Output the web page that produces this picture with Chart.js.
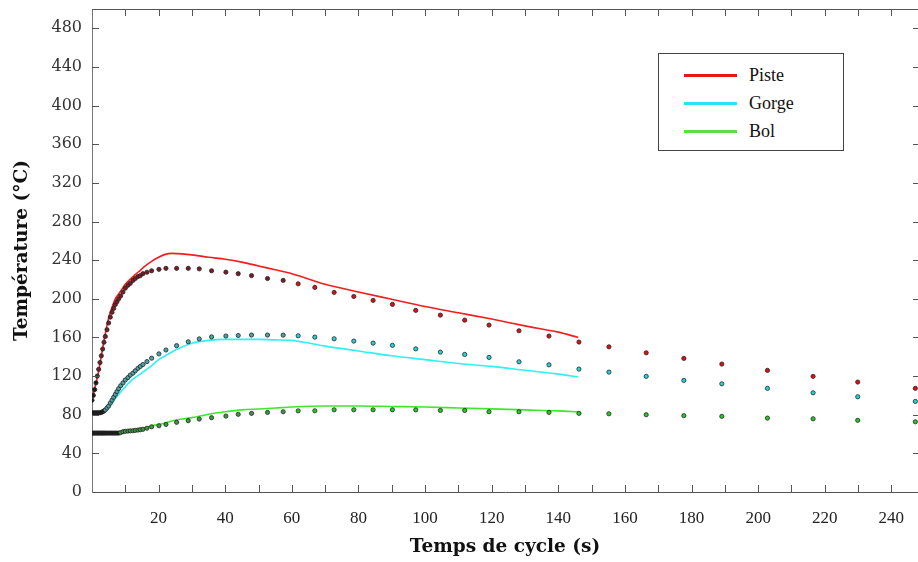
<!DOCTYPE html>
<html>
<head>
<meta charset="utf-8">
<script src="https://cdn.jsdelivr.net/npm/chart.js@4.4.1/dist/chart.umd.min.js"></script>
<style>
body { margin: 0; background: #fff; }
#wrap { position: relative; width: 918px; height: 562px; }
#legend { position: absolute; left: 658px; top: 53px; width: 186px; height: 98px; box-sizing: border-box;
  border: 1px solid #444; background: #fff; font-family: "Liberation Serif", serif; font-size: 18px; color: #111; }
.sw { position: absolute; left: 25px; width: 53px; height: 3px; }
.lb { position: absolute; left: 90px; line-height: 20px; }
</style>
</head>
<body>
<div id="wrap">
  <canvas id="chart" width="918" height="562"></canvas>
  <div id="legend">
    <div class="sw" style="top:20px;background:#ee1414"></div><div class="lb" style="top:11px">Piste</div>
    <div class="sw" style="top:48px;background:#26e6f2"></div><div class="lb" style="top:39px">Gorge</div>
    <div class="sw" style="top:76px;background:#58e23c"></div><div class="lb" style="top:67px">Bol</div>
  </div>
</div>
<script>
// simulation (lines)
const simTime  = [0,1,2,3,4,5,6,7,8,9,10,12,14,16,18,20,22,24,27,30,35,40,45,50,55,60,70,80,90,100,110,120,130,140,146]
const simPiste = [95,110,125,145,164,180,191,200,205,210,215,222,228,234,239,243,246,247,246.5,245.5,243,241,238,234,230,226,215,207,199.5,192,185.5,179,172,165.5,160]
const simGorge = [82,82,82,83,85,88,92,97,101,105,109,116,121,126,131,137,141,145,150,154,157,158,158,158,157.5,157,151,146,141,137,133,130,126,122,119]
const simBol   = [61,61,61,61,61,61,61,61,61,61.5,62,63,64.5,66.5,68.5,70,71.5,73.5,75.5,77,80.5,83,85,86,87,88,89,89,88.5,88,87,86,85,84,83]

// measurements (points)
const measTime  = [0,0.4,0.8,1.2,1.6,2,2.4,2.8,3.2,3.6,4,4.5,5,5.5,6,6.5,7,7.5,8,8.6,9.3,10,10.8,11.5,12.3,13,13.8,14.5,15.3,16.5,17.9,20.1,22.2,25.4,28.9,32.2,35.9,40.2,43.9,47.9,52.7,57.4,61.9,66.9,72.7,78.6,84.4,90.2,97.2,104.6,111.9,119.2,128.2,137.2,146.2,155.2,166.4,177.7,189.1,202.8,216.5,229.9,247.2]
const measPiste = [95,100,106,113,120,127,134,141,148,155,161,168,175,181,186,190,194,197,200,203,207,211,214,216,219,221,223,224,226,227.5,229,230.5,231.5,231.5,231.5,231,229,227.6,226,224,221,219,215.5,211.8,206.6,202.4,198.3,194.2,188,183.1,177.9,172.8,166.9,161.4,155.2,150.3,144.1,138.3,132.4,125.9,119.7,113.8,107.3]
const measGorge = [82,82,82,82,82,82,82,82.5,83,84,85,87,89,92,95,98,101,104,107,110,113,116,118.5,121,123,125.5,128,130,132,135,138.5,143,147,151.5,155.5,158.5,160.5,161.5,162,162.5,162.5,162.4,161.7,160.3,158.6,156.2,154.1,151.8,148.2,144.8,142.4,139.3,134.8,131.7,127.2,124.1,119.7,115.5,112,107.3,102.7,98.6,93.8]
const measBol   = [61,61,61,61,61,61,61,61,61,61,61,61,61,61,61,61,61,61,61,61.5,62.4,62.8,63.1,63.3,63.4,63.8,64.1,64.5,64.9,66,67.5,68.6,70,72.1,73.8,75.5,76.9,78.6,80.4,81.4,82.4,83.1,84,84.1,85.1,85.1,85.1,85.1,85,84.4,84.4,83.1,83.1,82.4,81.4,81,80,79,78.3,76.5,75.8,74.2,72.7]

const timeTicks = [0,10,20,30,40,50,60,70,80,90,100,110,120,130,140,150,160,170,180,190,200,210,220,230,240]

const pairs = (xs, ys) => xs.map((x, i) => ({ x: x, y: ys[i] }))

// colour of a measured dot depends on the part of the record
function dotColor(black, dark, bright) {
    return (ctx) => {
        const t = ctx.raw ? ctx.raw.x : 0
        if (t < black) return '#1a1a1a'
        if (t < 60) return dark
        return bright
    }
}

const innerTicks = {
    id: 'innerTicks',
    afterDraw(chart) {
        const { ctx, chartArea: a, scales: { x, y } } = chart
        ctx.save()
        ctx.strokeStyle = '#555'
        ctx.lineWidth = 1
        ctx.beginPath()
        ctx.moveTo(a.left, a.top + 0.5)
        ctx.lineTo(a.right, a.top + 0.5)
        timeTicks.forEach(v => {
            if (v === 0) return
            const px = Math.round(x.getPixelForValue(v)) + 0.5
            ctx.moveTo(px, a.bottom); ctx.lineTo(px, a.bottom - 7)
            ctx.moveTo(px, a.top); ctx.lineTo(px, a.top + 7)
        })
        y.ticks.forEach(t => {
            if (t.value === 0 || t.value === 500) return
            const py = Math.round(y.getPixelForValue(t.value)) + 0.5
            ctx.moveTo(a.left, py); ctx.lineTo(a.left + 7, py)
            ctx.moveTo(a.right, py); ctx.lineTo(a.right - 5, py)
        })
        ctx.stroke()
        ctx.restore()
    }
}

const lineDs = (data, color) => ({
    type: 'line', data: data, borderColor: color, borderWidth: 1.6,
    pointRadius: 0, fill: false, cubicInterpolationMode: 'monotone', order: 2
})
const dotDs = (data, black, dark, bright) => ({
    type: 'scatter', data: data, showLine: false, pointRadius: 2.1, pointBorderWidth: 0.8,
    pointBorderColor: '#222', pointBackgroundColor: dotColor(black, dark, bright), order: 1
})

new Chart(document.getElementById('chart'), {
    type: 'scatter',
    data: {
        datasets: [
            lineDs(pairs(simTime, simPiste), '#f21d1d'),
            lineDs(pairs(simTime, simGorge), '#2ef0f5'),
            lineDs(pairs(simTime, simBol), '#3de82a'),
            dotDs(pairs(measTime, measPiste), 1.5, '#7a1c26', '#e01010'),
            dotDs(pairs(measTime, measGorge), 4, '#4aa3a6', '#22d4dc'),
            dotDs(pairs(measTime, measBol), 8.5, '#3f973f', '#1fcc1f')
        ]
    },
    options: {
        responsive: false,
        devicePixelRatio: 1,
        animation: false,
        layout: { autoPadding: false, padding: { top: 9, right: 0, left: 0, bottom: 0 } },
        plugins: { legend: { display: false }, tooltip: { enabled: false } },
        scales: {
            x: {
                type: 'linear', min: 0, max: 248,
                afterBuildTicks: (scale) => { scale.ticks = timeTicks.map(v => ({ value: v })) },
                afterFit: (scale) => {
                    scale.height = 70
                    scale.paddingLeft = 0
                    scale.paddingRight = 0
                },
                grid: { display: false, drawTicks: false },
                border: { display: true, color: '#555', width: 1 },
                ticks: {
                    padding: 16, color: '#222', maxRotation: 0, autoSkip: false,
                    font: { family: 'Liberation Serif', size: 17 },
                    callback: (v) => (v > 0 && v % 20 === 0) ? v : ''
                },
                title: {
                    display: true, text: 'Temps de cycle (s)', color: '#111',
                    font: { family: 'DejaVu Serif', size: 18.5, weight: 'bold' },
                    padding: { top: 0, bottom: 4 }
                }
            },
            y: {
                min: 0, max: 500,
                afterFit: (scale) => {
                    scale.width = 92
                    scale.paddingTop = 0
                    scale.paddingBottom = 0
                },
                grid: { display: false, drawTicks: false },
                border: { display: true, color: '#777', width: 1 },
                ticks: {
                    stepSize: 20, padding: 10, color: '#333',
                    font: { family: 'DejaVu Serif', size: 16 },
                    callback: (v) => (v % 40 === 0 && v < 500) ? v : ''
                },
                title: {
                    display: true, text: 'Température (°C)', color: '#111',
                    font: { family: 'DejaVu Serif', size: 18.5, weight: 'bold' },
                    padding: { top: 11, bottom: 0 }
                }
            }
        }
    },
    plugins: [innerTicks]
})
</script>
</body>
</html>
